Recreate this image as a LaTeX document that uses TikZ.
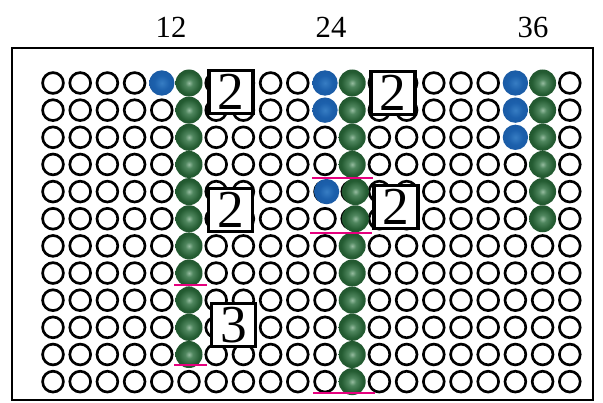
\documentclass[tikz,border=0pt]{standalone}
\usepackage{fontspec}
\setmainfont{Liberation Serif}
\definecolor{ballgreen}{RGB}{36,92,50}
\definecolor{ballgreenrim}{RGB}{28,74,40}
\definecolor{ballgreenmid}{RGB}{80,135,95}
\definecolor{ballgreenhi}{RGB}{150,188,160}
\definecolor{ballblue}{RGB}{28,96,172}
\definecolor{ballbluerim}{RGB}{24,84,155}
\definecolor{ballbluehi}{RGB}{55,125,195}
\definecolor{mag}{RGB}{230,0,126}
\pgfdeclareradialshading{gshade}{\pgfpoint{0bp}{0bp}}{color(0bp)=(ballgreenhi); color(7bp)=(ballgreenmid); color(20bp)=(ballgreen); color(40bp)=(ballgreenrim); color(50bp)=(ballgreenrim)}
\pgfdeclareradialshading{bshade}{\pgfpoint{0bp}{0bp}}{color(0bp)=(ballbluehi); color(15bp)=(ballblue); color(40bp)=(ballbluerim); color(50bp)=(ballbluerim)}
\begin{document}
\begin{tikzpicture}[x=0.75pt,y=-0.75pt,
  hole/.style={circle,draw=black,line width=2pt,minimum size=15.6pt,inner sep=0pt},
  gball/.style={circle,minimum size=20.25pt,inner sep=0pt,shading=gshade},
  bball/.style={circle,minimum size=19pt,inner sep=0pt,shading=bshade},
  numbox/.style={draw=black,line width=2.6pt,fill=white,minimum width=33pt,minimum height=32.5pt,inner sep=0pt,font=\fontsize{40}{40}\selectfont},
  toplabel/.style={font=\fontsize{23}{23}\selectfont,inner sep=0pt},
  tickmark/.style={draw=mag,line width=2pt},
  frameline/.style={draw=black,line width=2pt}]
\useasboundingbox (0,0) rectangle (603,403);
% frame
\draw[frameline] (12,48) rectangle (593,400);
% labels
\node[toplabel] (l12) at (171,27) {12};
\node[toplabel] (l24) at (331,27) {24};
\node[toplabel] (l36) at (533,27) {36};
% holes
\foreach \c in {1,...,20}
  \foreach \r in {1,...,12}
    \node[hole] (h-\c-\r) at ({53+(\c-1)*27.2},{83+(\r-1)*27.15}) {};
% left column
\node[bball] (b-5-1) at (h-5-1) {};
\foreach \r in {1,...,11}
  \node[gball] (g-6-\r) at (h-6-\r) {};
% middle column
\foreach \r in {1,2}
  \node[bball] (b-11-\r) at (h-11-\r) {};
\foreach \r in {1,...,4}
  \node[gball] (g-12-\r) at (h-12-\r) {};
\node[bball,xshift=1.2pt] (b-11-5) at (h-11-5) {};
\foreach \r in {5,6}
  \node[gball,xshift=2.4pt] (g-12-\r) at (h-12-\r) {};
\foreach \r in {7,...,12}
  \node[gball] (g-12-\r) at (h-12-\r) {};
% right column
\foreach \r in {1,...,3}
  \node[bball] (b-18-\r) at (h-18-\r) {};
\foreach \r in {1,...,6}
  \node[gball] (g-19-\r) at (h-19-\r) {};
% number boxes
\node[numbox] (nA) at (231,92) {2};
\node[numbox] (nB) at (230.5,210) {2};
\node[numbox] (nC) at (233.5,325) {3};
\node[numbox] (nD) at (393,93) {2};
\node[numbox] (nE) at (396,207) {2};
% magenta marks
\draw[tickmark] (174,285) -- (207,285);
\draw[tickmark] (174,365) -- (207,365);
\draw[tickmark] (312,178) -- (373,178);
\draw[tickmark] (310,233) -- (372,233);
\draw[tickmark] (313,393) -- (375,393);
\end{tikzpicture}
\end{document}
